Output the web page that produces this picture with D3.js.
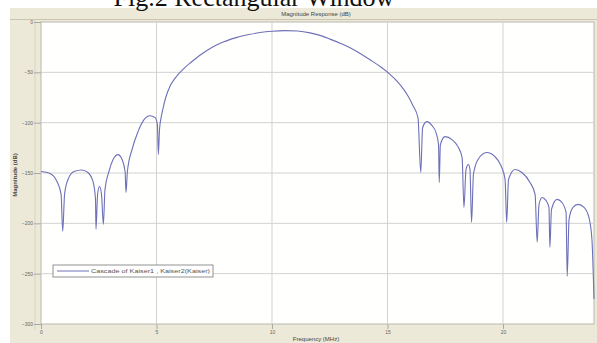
<!DOCTYPE html>
<html><head><meta charset="utf-8">
<script src="https://cdn.jsdelivr.net/npm/d3@7"></script>
<style>html,body{margin:0;padding:0;background:#fff;}svg{display:block;}</style>
</head><body>
<script>
const freqMHz = [0.00,0.39,0.69,0.87,0.94,1.02,1.17,1.43,1.76,2.03,2.25,2.36,2.38,2.45,2.53,2.62,2.70,2.77,2.94,3.12,3.33,3.51,3.64,3.68,3.74,3.94,4.20,4.46,4.72,4.94,5.04,5.08,5.13,5.20,5.28,5.40,5.58,5.80,6.15,6.50,6.88,7.20,7.62,8.00,8.48,9.00,9.48,10.00,10.56,11.10,11.65,12.00,12.51,13.00,13.38,13.80,14.24,14.70,15.11,15.40,15.67,15.90,16.10,16.32,16.44,16.52,16.70,16.93,17.10,17.21,17.24,17.29,17.49,17.79,18.05,18.23,18.31,18.40,18.50,18.57,18.64,18.72,18.92,19.29,19.65,19.91,20.09,20.16,20.24,20.52,20.82,21.17,21.39,21.48,21.56,21.69,21.86,21.99,22.03,22.10,22.34,22.55,22.73,22.78,22.86,23.03,23.25,23.51,23.72,23.85,23.94];
const magDB = [-148.5,-150.5,-158.4,-171.3,-207.9,-171.3,-156.4,-148.5,-147.0,-149.5,-158.4,-176.2,-205.9,-171.3,-163.4,-171.3,-201.0,-166.3,-148.5,-136.6,-131.7,-136.6,-148.5,-169.3,-148.5,-126.7,-108.9,-97.0,-93.1,-95.0,-102.0,-131.7,-107.0,-95.0,-86.0,-75.0,-64.0,-56.0,-47.0,-40.0,-33.0,-28.0,-22.5,-19.0,-15.3,-12.5,-10.5,-9.2,-8.6,-9.0,-10.8,-12.8,-17.0,-21.5,-25.5,-31.0,-37.5,-44.5,-52.0,-58.5,-66.0,-74.0,-83.0,-95.0,-149.5,-105.0,-99.0,-103.0,-109.9,-121.8,-159.4,-121.8,-113.9,-116.8,-123.8,-134.7,-184.2,-146.5,-141.6,-146.5,-199.0,-151.5,-136.6,-129.7,-133.7,-142.6,-156.4,-199.0,-156.4,-146.5,-149.5,-159.4,-171.3,-218.8,-181.2,-174.3,-177.2,-184.2,-223.8,-186.1,-176.2,-179.2,-189.1,-252.5,-196.0,-184.2,-181.2,-184.2,-194.1,-215.8,-275.2];
const xTicks = [0,5,10,15,20];
const yTicks = [0,-50,-100,-150,-200,-250,-300];
const figTitle = "Fig.2 Rectangular Window";
const plotTitle = "Magnitude Response (dB)";
const xLabel = "Frequency (MHz)";
const yLabel = "Magnitude (dB)";
const legendLabel = "Cascade of Kaiser1 , Kaiser2(Kaiser)";

const W = 597, H = 343;
const L = 41, R = 594, T = 22, B = 324;
const svg = d3.select("body").append("svg").attr("width", W).attr("height", H);

// panel background
svg.append("rect").attr("x", 10).attr("y", 8).attr("width", W - 10).attr("height", H - 8).attr("fill", "#ece9d8");
svg.append("line").attr("x1", 10).attr("x2", W).attr("y1", 19.5).attr("y2", 19.5).attr("stroke", "#c9c5b0");

const x = d3.scaleLinear().domain([0, 23.94]).range([L, R]);
const y = d3.scaleLinear().domain([-300, 0]).range([B, T]);

svg.append("rect").attr("x", L).attr("y", T).attr("width", R - L).attr("height", B - T)
  .attr("fill", "#fffffd").attr("stroke", "#b9b9b0");

// faint axis line left
svg.append("line").attr("x1", 35).attr("x2", 35).attr("y1", 20).attr("y2", 330).attr("stroke", "#d8d4c2");

// grid
svg.append("g").selectAll("line").data(xTicks.slice(1)).join("line")
  .attr("x1", d => x(d)).attr("x2", d => x(d)).attr("y1", T).attr("y2", B)
  .attr("stroke", "#d2d2d2");
svg.append("g").selectAll("line").data(yTicks.slice(1, -1)).join("line")
  .attr("x1", L).attr("x2", R).attr("y1", d => y(d)).attr("y2", d => y(d))
  .attr("stroke", "#d2d2d2");

// axes
const xAxis = svg.append("g").attr("transform", `translate(0,${B})`)
  .call(d3.axisBottom(x).tickValues(xTicks).tickSize(5).tickPadding(1));
const yAxis = svg.append("g").attr("transform", `translate(${L},0)`)
  .call(d3.axisLeft(y).tickValues(yTicks).tickSize(7).tickPadding(1));
[xAxis, yAxis].forEach(g => {
  g.select(".domain").remove();
  g.selectAll("line").attr("stroke", "#aaa9a0");
  g.selectAll("text").attr("font-family", "Arial, 'Liberation Sans', sans-serif").attr("font-size", 5).attr("fill", "#666");
});

// curve
const pts = freqMHz.map((f, i) => [f, magDB[i]]);
svg.append("path").datum(pts)
  .attr("fill", "none").attr("stroke", "#6d70b8").attr("stroke-width", 1.1)
  .attr("d", d3.line().x(d => x(d[0])).y(d => y(d[1])).curve(d3.curveMonotoneX));

// texts
svg.append("text").attr("x", 254).attr("y", 6).attr("text-anchor", "middle")
  .attr("font-family", "'Liberation Serif', 'Times New Roman', serif").attr("font-size", 26).attr("fill", "#111").text(figTitle);
svg.append("text").attr("x", 316).attr("y", 16).attr("text-anchor", "middle")
  .attr("font-family", "Arial, 'Liberation Sans', sans-serif").attr("font-size", 6).attr("fill", "#444").text(plotTitle);
svg.append("text").attr("x", 316).attr("y", 341).attr("text-anchor", "middle")
  .attr("font-family", "Arial, 'Liberation Sans', sans-serif").attr("font-size", 6).attr("fill", "#444").text(xLabel);
svg.append("text").attr("transform", "translate(17,175) rotate(-90)").attr("text-anchor", "middle")
  .attr("font-family", "Arial, 'Liberation Sans', sans-serif").attr("font-size", 6).attr("font-weight", "bold").attr("fill", "#444").text(yLabel);

// legend
const lg = svg.append("g");
lg.append("rect").attr("x", 53).attr("y", 265).attr("width", 160).attr("height", 12)
  .attr("fill", "#fff").attr("stroke", "#777").attr("stroke-width", 0.8);
lg.append("line").attr("x1", 57).attr("x2", 89).attr("y1", 271).attr("y2", 271).attr("stroke", "#6d70b8").attr("stroke-width", 1);
lg.append("text").attr("x", 91).attr("y", 273).attr("font-family", "Arial, 'Liberation Sans', sans-serif")
  .attr("font-size", 6).attr("fill", "#555").attr("textLength", 119).attr("lengthAdjust", "spacingAndGlyphs").text(legendLabel);
</script>
</body></html>
